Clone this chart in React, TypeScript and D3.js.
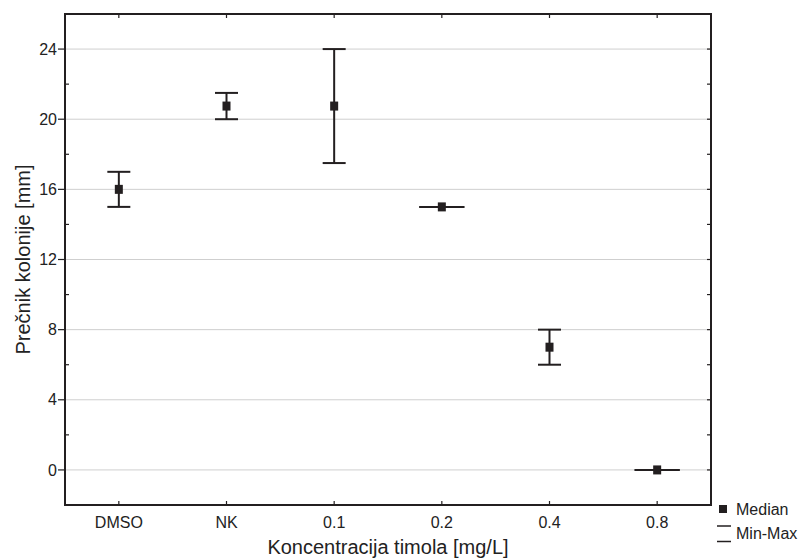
import React from 'react';
import * as d3 from 'd3';

// values
const categories = ['DMSO', 'NK', '0.1', '0.2', '0.4', '0.8'];
const medians = [16, 20.75, 20.75, 15, 7, 0];
const mins = [15, 20, 17.5, 15, 6, 0];
const maxs = [17, 21.5, 24, 15, 8, 0];
const majorTicks = [0, 4, 8, 12, 16, 20, 24];
const minorTicks = [-2, 2, 6, 10, 14, 18, 22, 26];

const W = 802;
const H = 560;
const margin = { top: 14, right: 91, bottom: 55, left: 65 };
const ink = '#231f20';
const font = '"Liberation Sans", Arial, sans-serif';

export default function App() {
  const innerW = W - margin.left - margin.right;
  const innerH = H - margin.top - margin.bottom;

  const x = d3.scaleBand().domain(categories).range([0, innerW]);
  const y = d3.scaleLinear().domain([-2, 26]).range([innerH, 0]);
  const cx = (c: string) => (x(c) ?? 0) + x.bandwidth() / 2;

  const allTicks = d3.range(-2, 27, 2);

  return (
    <svg width={W} height={H} style={{ position: 'absolute', left: 0, top: 0, background: '#fff' }}
      fontFamily={font}>
      <g transform={`translate(${margin.left},${margin.top})`}>
        {/* gridlines */}
        {majorTicks.map(t => (
          <line key={'g' + t} x1={0} x2={innerW} y1={y(t)} y2={y(t)} stroke="#cfcfcf" strokeWidth={1} />
        ))}

        {/* error bars */}
        {categories.map((c, i) => {
          const px = cx(c);
          const flat = mins[i] === maxs[i];
          const hw = flat ? 22.5 : 11.5;
          return (
            <g key={c} stroke={ink} strokeWidth={2}>
              <line x1={px} x2={px} y1={y(mins[i])} y2={y(maxs[i])} />
              <line x1={px - hw} x2={px + hw} y1={y(maxs[i])} y2={y(maxs[i])} />
              <line x1={px - hw} x2={px + hw} y1={y(mins[i])} y2={y(mins[i])} />
              <rect x={px - 4} y={y(medians[i]) - 4.5} width={8} height={9} fill={ink} stroke="none" />
            </g>
          );
        })}

        {/* left axis: major ticks outside, minor inside */}
        {majorTicks.map(t => (
          <g key={'yl' + t}>
            <line x1={-7} x2={0} y1={y(t)} y2={y(t)} stroke={ink} strokeWidth={1.2} />
            <text x={-8} y={y(t)} dy="0.35em" textAnchor="end" fontSize={16} fill="#222">{t}</text>
          </g>
        ))}
        {minorTicks.map(t => (
          <line key={'ym' + t} x1={0} x2={4} y1={y(t)} y2={y(t)} stroke={ink} strokeWidth={1.2} />
        ))}
        {/* right axis ticks inward */}
        {allTicks.map(t => (
          <line key={'yr' + t} x1={innerW - 4} x2={innerW} y1={y(t)} y2={y(t)} stroke={ink} strokeWidth={1.2} />
        ))}
        {/* top & bottom ticks at categories */}
        {categories.map(c => (
          <g key={'xt' + c}>
            <line x1={cx(c)} x2={cx(c)} y1={innerH - 4} y2={innerH} stroke={ink} strokeWidth={1.2} />
            <line x1={cx(c)} x2={cx(c)} y1={0} y2={4} stroke={ink} strokeWidth={1.2} />
            <text x={cx(c)} y={innerH + 23} textAnchor="middle" fontSize={16} fill="#222">{c}</text>
          </g>
        ))}

        {/* frame */}
        <rect x={0} y={0} width={innerW} height={innerH} fill="none" stroke={ink} strokeWidth={2} />

        {/* axis titles */}
        <text x={innerW / 2} y={innerH + 49} textAnchor="middle" fontSize={20} fill="#222">
          Koncentracija timola [mg/L]
        </text>
        <text transform={`translate(${30 - margin.left},${innerH / 2}) rotate(-90)`} textAnchor="middle"
          fontSize={20} fill="#222">
          Prečnik kolonije [mm]
        </text>
      </g>

      {/* legend */}
      <g>
        <rect x={719} y={505} width={8} height={8} fill={ink} />
        <text x={736} y={515} fontSize={16} fill="#222">Median</text>
        <line x1={717} x2={731} y1={526} y2={526} stroke={ink} strokeWidth={1.5} />
        <line x1={717} x2={731} y1={541.5} y2={541.5} stroke={ink} strokeWidth={1.5} />
        <text x={736} y={539} fontSize={16} fill="#222">Min-Max</text>
      </g>
    </svg>
  );
}
